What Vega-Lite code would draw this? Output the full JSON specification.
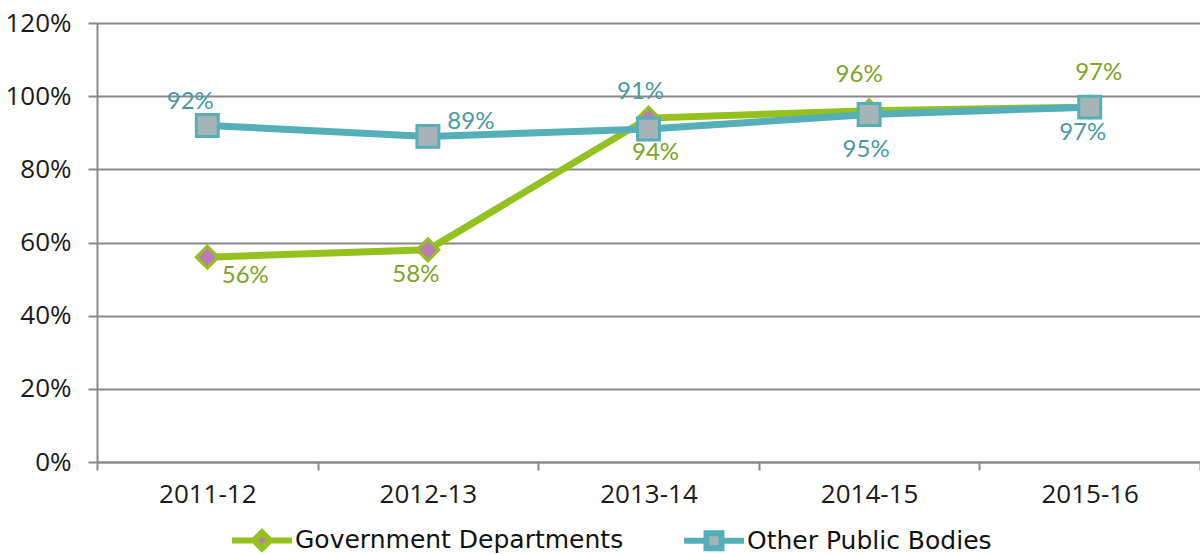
{
  "$schema": "https://vega.github.io/schema/vega-lite/v6.json",
  "autosize": {"type": "none"},
  "padding": {"left": 97, "top": 23, "right": 0, "bottom": 92},
  "width": 1103,
  "height": 439,
  "background": "white",
  "data": {"values": [
    {"year": "2011-12", "series": "Government Departments", "value": 0.56},
    {"year": "2012-13", "series": "Government Departments", "value": 0.58},
    {"year": "2013-14", "series": "Government Departments", "value": 0.94},
    {"year": "2014-15", "series": "Government Departments", "value": 0.96},
    {"year": "2015-16", "series": "Government Departments", "value": 0.97},
    {"year": "2011-12", "series": "Other Public Bodies", "value": 0.92},
    {"year": "2012-13", "series": "Other Public Bodies", "value": 0.89},
    {"year": "2013-14", "series": "Other Public Bodies", "value": 0.91},
    {"year": "2014-15", "series": "Other Public Bodies", "value": 0.95},
    {"year": "2015-16", "series": "Other Public Bodies", "value": 0.97}
  ]},
  "config": {
    "view": {"stroke": null}
  },
  "encoding": {
    "x": {"field": "year", "type": "ordinal",
      "scale": {"type": "band", "paddingInner": 0, "paddingOuter": 0},
      "axis": {"title": null, "labelAngle": 0, "tickBand": "extent", "tickSize": 8, "labelPadding": 11, "grid": false,
        "domainColor": "#898989", "domainWidth": 2, "tickColor": "#898989", "tickWidth": 2,
        "labelFont": "Open Sans", "labelFontSize": 26, "labelColor": "#1a1a1a"}},
    "y": {"field": "value", "type": "quantitative",
      "scale": {"domain": [0, 1.2], "nice": false, "zero": true},
      "axis": {"title": null, "format": ".0%", "values": [0, 0.2, 0.4, 0.6, 0.8, 1.0, 1.2], "tickSize": 9, "labelPadding": 17, "grid": true,
        "domainColor": "#898989", "domainWidth": 2, "tickColor": "#898989", "tickWidth": 2, "gridColor": "#898989", "gridWidth": 2,
        "labelFont": "Open Sans", "labelFontSize": 26, "labelColor": "#1a1a1a"}}
  },
  "layer": [
    {
      "mark": {"type": "line", "strokeWidth": 7},
      "encoding": {
        "color": {"field": "series", "type": "nominal",
          "scale": {"domain": ["Government Departments", "Other Public Bodies"], "range": ["#95C11F", "#55AFB8"]},
          "legend": {
            "title": null, "orient": "none", "direction": "horizontal",
            "legendX": 132, "legendY": 484,
            "symbolSize": 3600, "symbolStrokeWidth": 6, "labelLimit": 0,
            "labelFont": "DejaVu Sans", "labelFontSize": 25, "labelColor": "#111111",
            "labelOffset": 0, "columnPadding": 48,
            "encode": {"symbols": {"update": {
              "shape": {"signal": "datum.value === 'Government Departments' ? 'M-1,0H-0.27M0.27,0H1M0,-0.27L0.27,0L0,0.27L-0.27,0Z' : 'M-1,0H-0.25M0.25,0H1M-0.25,-0.25H0.25V0.25H-0.25Z'"},
              "fill": {"signal": "datum.value === 'Government Departments' ? '#B87DB5' : '#A6B4B7'"},
              "stroke": {"signal": "datum.value === 'Government Departments' ? '#95C11F' : '#55AFB8'"},
              "strokeWidth": {"value": 6},
              "opacity": {"value": 1},
              "fillOpacity": {"value": 1}
            }}}
          }},
        "order": {"field": "year"}
      }
    },
    {
      "transform": [{"filter": "datum.series === 'Government Departments'"}],
      "mark": {"type": "point", "shape": "diamond", "filled": true, "size": 480, "strokeWidth": 3, "opacity": 1, "fill": "#B87DB5", "stroke": "#95C11F"}
    },
    {
      "transform": [{"filter": "datum.series === 'Other Public Bodies'"}],
      "mark": {"type": "point", "shape": "square", "filled": true, "size": 480, "strokeWidth": 3, "opacity": 1, "fill": "#A6B4B7", "stroke": "#55AFB8"}
    },
    {"transform": [{"filter": "datum.series === 'Government Departments' && datum.year === '2011-12'"}],
     "mark": {"type": "text", "dx": 38, "dy": 19, "font": "Lato", "fontSize": 24, "color": "#7EA329", "baseline": "middle"},
     "encoding": {"text": {"field": "value", "format": ".0%"}}},
    {"transform": [{"filter": "datum.series === 'Government Departments' && datum.year === '2012-13'"}],
     "mark": {"type": "text", "dx": -12, "dy": 25, "font": "Lato", "fontSize": 24, "color": "#7EA329", "baseline": "middle"},
     "encoding": {"text": {"field": "value", "format": ".0%"}}},
    {"transform": [{"filter": "datum.series === 'Government Departments' && datum.year === '2013-14'"}],
     "mark": {"type": "text", "dx": 7, "dy": 35, "font": "Lato", "fontSize": 24, "color": "#7EA329", "baseline": "middle"},
     "encoding": {"text": {"field": "value", "format": ".0%"}}},
    {"transform": [{"filter": "datum.series === 'Government Departments' && datum.year === '2014-15'"}],
     "mark": {"type": "text", "dx": -10, "dy": -36, "font": "Lato", "fontSize": 24, "color": "#7EA329", "baseline": "middle"},
     "encoding": {"text": {"field": "value", "format": ".0%"}}},
    {"transform": [{"filter": "datum.series === 'Government Departments' && datum.year === '2015-16'"}],
     "mark": {"type": "text", "dx": 9, "dy": -34, "font": "Lato", "fontSize": 24, "color": "#7EA329", "baseline": "middle"},
     "encoding": {"text": {"field": "value", "format": ".0%"}}},
    {"transform": [{"filter": "datum.series === 'Other Public Bodies' && datum.year === '2011-12'"}],
     "mark": {"type": "text", "dx": -17, "dy": -23, "font": "Lato", "fontSize": 24, "color": "#4A99A3", "baseline": "middle"},
     "encoding": {"text": {"field": "value", "format": ".0%"}}},
    {"transform": [{"filter": "datum.series === 'Other Public Bodies' && datum.year === '2012-13'"}],
     "mark": {"type": "text", "dx": 43, "dy": -14, "font": "Lato", "fontSize": 24, "color": "#4A99A3", "baseline": "middle"},
     "encoding": {"text": {"field": "value", "format": ".0%"}}},
    {"transform": [{"filter": "datum.series === 'Other Public Bodies' && datum.year === '2013-14'"}],
     "mark": {"type": "text", "dx": -8, "dy": -37, "font": "Lato", "fontSize": 24, "color": "#4A99A3", "baseline": "middle"},
     "encoding": {"text": {"field": "value", "format": ".0%"}}},
    {"transform": [{"filter": "datum.series === 'Other Public Bodies' && datum.year === '2014-15'"}],
     "mark": {"type": "text", "dx": -3, "dy": 36, "font": "Lato", "fontSize": 24, "color": "#4A99A3", "baseline": "middle"},
     "encoding": {"text": {"field": "value", "format": ".0%"}}},
    {"transform": [{"filter": "datum.series === 'Other Public Bodies' && datum.year === '2015-16'"}],
     "mark": {"type": "text", "dx": -7, "dy": 26, "font": "Lato", "fontSize": 24, "color": "#4A99A3", "baseline": "middle"},
     "encoding": {"text": {"field": "value", "format": ".0%"}}}
  ]
}
